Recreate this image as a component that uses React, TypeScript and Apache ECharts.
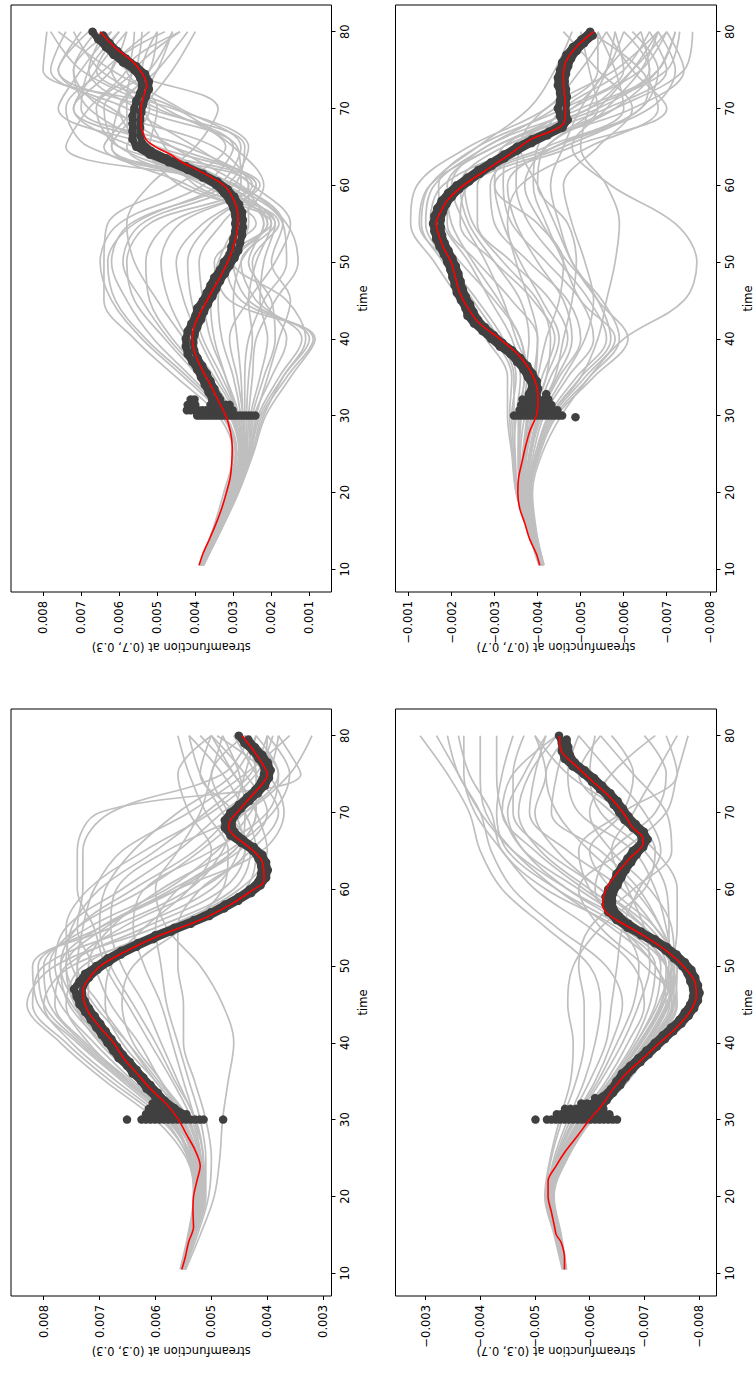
import React, { useEffect, useRef } from "react";
import * as echarts from "echarts";

// All streamfunction tables below are stored in units of 1e-3.
const UNIT = 1e-3;

const TIME_TICKS = [10, 20, 30, 40, 50, 60, 70, 80];

// sampling times of the ensemble members
const ENS_T = [10.5, 15, 20, 25, 30, 35, 40, 45, 50, 55, 60, 65, 70, 75, 80];

// observation times (two interleaved rows of dots)
const OBS_T = [31, 32, 33, 34, 35, 36, 37, 38, 39, 40, 41, 42, 43, 44, 45, 46, 47, 48, 49, 50,
  51, 52, 53, 54, 55, 56, 57, 58, 59, 60, 61, 62, 63, 64, 65, 66, 67, 68, 69, 70,
  71, 72, 73, 74, 75, 76, 77, 78, 79, 80];
const OBS_T_HALF = [30.5, 31.5, 32.5, 33.5, 34.5, 35.5, 36.5, 37.5, 38.5, 39.5, 40.5, 41.5, 42.5, 43.5, 44.5,
  45.5, 46.5, 47.5, 48.5, 49.5, 50.5, 51.5, 52.5, 53.5, 54.5, 55.5, 56.5, 57.5, 58.5, 59.5,
  60.5, 61.5, 62.5, 63.5, 64.5, 65.5, 66.5, 67.5, 68.5, 69.5, 70.5, 71.5, 72.5, 73.5, 74.5,
  75.5, 76.5, 77.5, 78.5, 79.5];

// ---------- point (0.7, 0.3) ----------
const P73_TICKS = [0.001, 0.002, 0.003, 0.004, 0.005, 0.006, 0.007, 0.008];
const P73_ENS = [
  [3.90, 3.55, 3.25, 3.00, 3.40, 4.50, 5.60, 6.40, 6.40, 6.30, 4.50, 3.20, 4.80, 6.50, 7.20],
  [3.88, 3.50, 3.20, 2.95, 3.30, 4.30, 5.40, 6.20, 6.50, 6.00, 3.80, 3.00, 5.00, 7.00, 7.80],
  [3.85, 3.52, 3.15, 2.90, 3.20, 4.10, 5.10, 5.80, 6.20, 5.70, 3.20, 2.60, 4.60, 8.00, 7.90],
  [3.86, 3.48, 3.10, 2.85, 3.10, 3.90, 4.80, 5.60, 5.80, 5.20, 2.80, 2.90, 5.50, 6.80, 6.40],
  [3.84, 3.45, 3.10, 2.80, 3.00, 3.70, 4.60, 5.20, 5.30, 4.70, 2.60, 3.50, 6.40, 7.20, 6.60],
  [3.87, 3.50, 3.15, 2.85, 2.95, 3.50, 4.20, 4.70, 4.90, 4.40, 2.50, 4.20, 7.00, 6.80, 6.00],
  [3.83, 3.46, 3.05, 2.75, 2.90, 3.40, 3.90, 4.30, 4.50, 3.80, 2.30, 5.00, 7.60, 7.00, 6.20],
  [3.85, 3.44, 3.05, 2.75, 2.85, 3.20, 3.60, 3.80, 3.90, 3.30, 2.40, 5.60, 7.20, 6.20, 5.80],
  [3.82, 3.42, 3.00, 2.70, 2.80, 3.00, 3.30, 3.40, 3.20, 2.60, 2.60, 6.00, 6.60, 5.60, 5.40],
  [3.84, 3.40, 3.00, 2.70, 2.75, 2.80, 2.90, 3.00, 2.80, 2.20, 2.90, 6.20, 6.00, 5.20, 5.00],
  [3.80, 3.40, 2.98, 2.65, 2.65, 2.60, 2.50, 2.60, 2.40, 2.00, 3.30, 6.40, 5.60, 5.00, 4.60],
  [3.82, 3.38, 2.95, 2.60, 2.55, 2.30, 2.10, 2.30, 2.20, 1.90, 3.60, 5.80, 5.20, 5.40, 5.00],
  [3.80, 3.36, 2.92, 2.58, 2.45, 2.00, 1.60, 2.20, 2.50, 1.80, 3.80, 5.20, 5.00, 5.80, 4.40],
  [3.78, 3.35, 2.90, 2.55, 2.35, 1.80, 1.20, 2.40, 2.80, 1.90, 4.00, 4.80, 5.40, 6.20, 4.80],
  [3.79, 3.34, 2.88, 2.50, 2.25, 1.60, 0.90, 2.80, 3.20, 2.00, 4.40, 5.40, 6.00, 5.00, 4.20],
  [3.80, 3.33, 2.86, 2.48, 2.15, 1.50, 0.85, 3.10, 3.50, 2.40, 4.20, 6.20, 5.40, 4.60, 4.00],
  [3.81, 3.35, 2.90, 2.52, 2.20, 1.70, 1.10, 1.60, 3.00, 2.10, 3.20, 6.80, 7.40, 6.40, 5.20],
  [3.83, 3.37, 2.93, 2.58, 2.40, 2.10, 1.80, 1.50, 2.00, 1.70, 3.00, 7.40, 6.80, 5.80, 5.60],
  [3.84, 3.40, 2.97, 2.65, 2.60, 2.50, 2.40, 1.90, 1.30, 1.60, 2.80, 4.60, 6.20, 7.60, 6.80],
  [3.86, 3.43, 3.02, 2.72, 2.75, 2.90, 3.10, 2.60, 1.90, 1.50, 2.50, 4.00, 5.80, 7.80, 7.40],
  [3.85, 3.45, 3.05, 2.78, 2.90, 3.20, 3.50, 3.60, 3.40, 2.90, 2.20, 3.00, 4.50, 6.60, 6.00],
  [3.87, 3.47, 3.08, 2.80, 3.00, 3.60, 4.30, 5.00, 5.60, 5.80, 5.20, 4.00, 3.40, 5.80, 6.50],
  [3.86, 3.49, 3.12, 2.82, 3.05, 3.80, 4.70, 5.40, 5.90, 5.40, 3.00, 2.70, 5.20, 7.60, 7.00],
  [3.81, 3.39, 2.96, 2.62, 2.50, 2.20, 1.90, 2.00, 2.60, 2.20, 3.40, 6.00, 6.40, 5.20, 4.60],
  [3.83, 3.41, 2.99, 2.68, 2.70, 2.70, 2.60, 2.20, 1.60, 1.70, 3.00, 5.00, 6.80, 7.20, 6.20],
  [3.85, 3.46, 3.06, 2.76, 2.88, 3.30, 3.80, 4.10, 4.20, 3.60, 2.40, 4.60, 7.20, 6.60, 5.80],
  [3.79, 3.36, 2.91, 2.55, 2.30, 1.70, 1.00, 2.60, 3.00, 2.10, 3.60, 5.60, 5.80, 5.60, 4.40],
  [3.88, 3.51, 3.18, 2.92, 3.25, 4.20, 5.30, 6.10, 6.30, 5.60, 3.40, 2.80, 4.40, 6.20, 7.60],
];
const P73_MEAN_T = [10.5, 12, 14, 16, 18, 20, 22, 24, 26, 28, 30, 32, 34, 36, 38, 40, 42, 44, 46, 48,
  50, 52, 54, 56, 58, 60, 62, 63, 64, 65, 66, 68, 70, 72, 73, 74, 76, 78, 80];
const P73_MEAN = [3.90, 3.80, 3.62, 3.45, 3.30, 3.18, 3.08, 3.04, 3.03, 3.08, 3.20, 3.40, 3.60, 3.82, 4.00,
  4.08, 4.00, 3.80, 3.58, 3.35, 3.15, 3.00, 2.90, 2.88, 2.98, 3.25, 3.95, 4.35, 4.65, 5.05,
  5.30, 5.42, 5.42, 5.33, 5.28, 5.33, 5.62, 6.12, 6.50];
const P73_OBS_HI = [3.50, 3.55, 3.65, 3.75, 3.85, 3.95, 4.08, 4.20, 4.25, 4.25, 4.20, 4.10, 4.00, 3.95, 3.80,
  3.70, 3.60, 3.50, 3.35, 3.25, 3.10, 3.05, 3.00, 2.95, 2.95, 2.95, 3.00, 3.10, 3.25, 3.45,
  3.80, 4.20, 4.70, 5.20, 5.55, 5.65, 5.65, 5.65, 5.65, 5.60, 5.55, 5.45, 5.40, 5.45, 5.60,
  5.90, 6.15, 6.35, 6.55, 6.70];
const P73_OBS_LO = [3.25, 3.33, 3.40, 3.50, 3.60, 3.70, 3.82, 3.94, 4.03, 4.05, 4.02, 3.95, 3.85, 3.77, 3.67,
  3.55, 3.45, 3.35, 3.22, 3.10, 2.97, 2.87, 2.82, 2.77, 2.75, 2.75, 2.77, 2.85, 2.97, 3.15,
  3.42, 3.80, 4.25, 4.75, 5.17, 5.40, 5.45, 5.45, 5.45, 5.42, 5.37, 5.30, 5.22, 5.22, 5.32,
  5.55, 5.82, 6.05, 6.25, 6.42];
// observations gathered at the start of the assimilation window
const P73_BURST_T = [30, 30.7, 31.4, 32.1];
const P73_BURST = [
  [3.95, 3.87, 3.79, 3.71, 3.63, 3.55, 3.47, 3.39, 3.31, 3.23, 3.15, 3.07, 2.99, 2.91, 2.83, 2.75, 2.67, 2.59, 2.51, 2.42],
  [4.22, 4.12, 4.02, 3.92, 3.82, 3.72, 3.62, 3.52, 3.42, 3.32, 3.22, 3.12, 3.02],
  [4.20, 4.10, 4.00, 3.60, 3.50, 3.40, 3.30, 3.20, 3.10],
  [4.12, 4.02, 3.45, 3.35],
];

// ---------- point (0.7, 0.7) ----------
const P77_TICKS = [-0.008, -0.007, -0.006, -0.005, -0.004, -0.003, -0.002, -0.001];
const P77_ENS = [
  [-4.05, -3.80, -3.50, -3.40, -3.30, -3.30, -2.80, -2.20, -1.60, -1.05, -1.20, -2.40, -4.20, -5.00, -5.60],
  [-4.05, -3.78, -3.55, -3.45, -3.40, -3.50, -3.20, -2.60, -1.90, -1.25, -1.50, -3.00, -4.80, -5.60, -6.00],
  [-4.08, -3.82, -3.60, -3.55, -3.55, -3.70, -3.60, -3.00, -2.20, -1.50, -1.80, -3.60, -5.40, -5.20, -5.00],
  [-4.06, -3.84, -3.62, -3.60, -3.70, -3.90, -4.00, -3.40, -2.60, -1.90, -2.10, -4.20, -6.00, -5.80, -5.40],
  [-4.10, -3.86, -3.66, -3.70, -3.85, -4.10, -4.40, -3.90, -3.00, -2.20, -2.40, -4.60, -6.40, -6.80, -6.20],
  [-4.08, -3.88, -3.70, -3.75, -3.95, -4.30, -4.70, -4.30, -3.40, -2.60, -2.60, -4.40, -6.60, -7.20, -6.80],
  [-4.12, -3.90, -3.74, -3.85, -4.05, -4.50, -5.00, -4.70, -3.80, -3.00, -2.90, -3.80, -5.80, -7.40, -7.60],
  [-4.10, -3.92, -3.76, -3.90, -4.15, -4.70, -5.30, -5.00, -4.20, -3.40, -3.20, -3.40, -5.20, -7.00, -7.30],
  [-4.14, -3.94, -3.80, -3.95, -4.25, -4.90, -5.60, -5.20, -4.50, -3.80, -3.50, -3.60, -4.80, -6.40, -7.00],
  [-4.12, -3.95, -3.82, -4.00, -4.35, -5.10, -5.80, -5.00, -4.60, -4.20, -3.90, -4.00, -4.60, -6.00, -6.60],
  [-4.15, -3.96, -3.85, -4.05, -4.45, -5.30, -6.10, -5.40, -4.80, -4.50, -4.30, -4.60, -5.00, -5.60, -6.40],
  [-4.13, -3.97, -3.88, -4.10, -4.55, -5.20, -6.00, -7.40, -7.70, -7.20, -5.70, -4.80, -5.60, -6.40, -6.80],
  [-4.11, -3.93, -3.78, -3.95, -4.30, -5.00, -5.40, -5.60, -5.80, -5.90, -5.60, -5.00, -5.20, -5.60, -5.80],
  [-4.09, -3.89, -3.72, -3.80, -4.00, -4.40, -4.60, -4.80, -4.90, -4.70, -4.00, -4.20, -5.80, -6.80, -7.20],
  [-4.07, -3.85, -3.65, -3.70, -3.80, -4.00, -4.20, -4.50, -4.60, -4.00, -3.00, -3.20, -5.20, -6.20, -7.00],
  [-4.06, -3.83, -3.60, -3.65, -3.75, -3.80, -3.50, -3.20, -2.80, -2.30, -2.00, -2.80, -5.00, -6.60, -6.40],
  [-4.04, -3.79, -3.52, -3.45, -3.50, -3.60, -3.40, -2.90, -2.40, -1.80, -1.70, -2.60, -4.60, -6.00, -5.80],
  [-4.05, -3.81, -3.58, -3.55, -3.60, -3.70, -3.80, -3.60, -3.00, -2.40, -2.20, -3.20, -5.60, -7.00, -6.60],
  [-4.09, -3.87, -3.68, -3.75, -3.90, -4.20, -4.50, -4.10, -3.60, -3.20, -3.00, -4.80, -7.00, -6.20, -5.60],
  [-4.11, -3.91, -3.75, -3.85, -4.10, -4.60, -5.10, -5.30, -5.10, -4.80, -4.60, -5.40, -6.20, -5.40, -4.60],
  [-4.07, -3.84, -3.63, -3.68, -3.78, -3.95, -4.00, -3.80, -3.50, -3.30, -3.60, -5.20, -6.80, -6.40, -5.20],
  [-4.03, -3.77, -3.50, -3.42, -3.35, -3.40, -3.00, -2.40, -1.80, -1.30, -1.50, -2.60, -3.80, -4.40, -4.80],
  [-4.08, -3.86, -3.64, -3.72, -3.88, -4.20, -4.30, -4.00, -3.20, -2.50, -2.30, -3.60, -6.20, -7.40, -7.00],
  [-4.12, -3.93, -3.79, -3.98, -4.30, -5.00, -5.70, -5.40, -4.80, -4.40, -4.00, -3.60, -4.20, -5.80, -6.80],
  [-4.06, -3.82, -3.58, -3.58, -3.62, -3.75, -3.60, -3.10, -2.50, -2.00, -1.90, -3.00, -5.40, -6.80, -7.20],
  [-4.10, -3.89, -3.71, -3.82, -4.02, -4.45, -4.80, -4.60, -4.00, -3.50, -3.30, -4.40, -6.40, -6.60, -6.00],
  [-4.04, -3.78, -3.54, -3.48, -3.45, -3.45, -3.10, -2.50, -1.90, -1.40, -1.60, -2.80, -4.40, -5.40, -5.40],
  [-4.13, -3.95, -3.83, -4.02, -4.40, -5.20, -5.90, -5.50, -4.70, -4.10, -3.70, -4.20, -5.40, -6.20, -6.80],
];
const P77_MEAN_T = [10.5, 12, 14, 16, 18, 20, 22, 24, 26, 28, 30, 32, 34, 36, 38, 40, 42, 44, 46, 48,
  50, 52, 54, 55, 56, 58, 60, 62, 64, 66, 67, 68, 70, 72, 74, 76, 78, 80];
const P77_MEAN = [-4.05, -3.97, -3.81, -3.70, -3.58, -3.54, -3.56, -3.64, -3.72, -3.82, -3.97, -4.01, -3.97,
  -3.81, -3.54, -3.12, -2.65, -2.38, -2.19, -2.09, -1.99, -1.80, -1.68, -1.64, -1.70, -1.90, -2.28,
  -2.81, -3.35, -3.85, -4.30, -4.60, -4.65, -4.62, -4.60, -4.65, -4.90, -5.30];
const P77_OBS_HI = [-3.87, -3.82, -3.82, -3.87, -3.77, -3.67, -3.52, -3.37, -3.12, -2.92, -2.72, -2.52, -2.37,
  -2.32, -2.22, -2.12, -2.07, -2.02, -1.97, -1.90, -1.82, -1.72, -1.64, -1.60, -1.57, -1.60, -1.67,
  -1.77, -1.92, -2.12, -2.37, -2.62, -2.92, -3.22, -3.52, -3.87, -4.27, -4.57, -4.52, -4.47, -4.52,
  -4.52, -4.47, -4.47, -4.52, -4.57, -4.67, -4.82, -5.02, -5.22];
const P77_OBS_LO = [-4.05, -4.00, -3.98, -4.01, -3.98, -3.88, -3.76, -3.60, -3.41, -3.18, -2.98, -2.78, -2.61,
  -2.51, -2.43, -2.33, -2.26, -2.21, -2.16, -2.10, -2.02, -1.93, -1.84, -1.78, -1.75, -1.75, -1.80,
  -1.88, -2.01, -2.18, -2.41, -2.66, -2.93, -3.23, -3.53, -3.86, -4.23, -4.58, -4.70, -4.66, -4.66,
  -4.68, -4.66, -4.63, -4.66, -4.71, -4.78, -4.91, -5.08, -5.28];
const P77_BURST_T = [29.8, 30, 30.7, 31.4, 32.1, 32.8];
const P77_BURST = [
  [-4.88],
  [-3.45, -3.53, -3.61, -3.69, -3.77, -3.85, -3.93, -4.01, -4.09, -4.17, -4.25, -4.33, -4.41, -4.49, -4.57],
  [-3.58, -3.66, -3.74, -3.82, -3.90, -3.98, -4.06, -4.14, -4.22, -4.30, -4.38, -4.46],
  [-3.62, -3.72, -3.82, -4.02, -4.12, -4.22, -4.32],
  [-3.65, -3.75, -4.15, -4.25],
  [-3.80, -4.20],
];

// ---------- point (0.3, 0.3) ----------
const P33_TICKS = [0.003, 0.004, 0.005, 0.006, 0.007, 0.008];
const P33_ENS = [
  [5.50, 5.35, 5.25, 5.35, 5.80, 6.60, 7.40, 8.10, 8.20, 6.80, 5.40, 4.80, 4.60, 4.40, 4.20],
  [5.52, 5.38, 5.28, 5.40, 5.90, 6.80, 7.60, 8.20, 8.00, 6.40, 5.00, 4.50, 4.40, 4.50, 4.80],
  [5.55, 5.40, 5.30, 5.45, 6.00, 6.90, 7.70, 8.30, 7.80, 6.00, 4.60, 4.30, 4.70, 5.00, 4.40],
  [5.48, 5.34, 5.22, 5.30, 5.70, 6.50, 7.30, 7.90, 8.00, 7.20, 5.80, 4.90, 4.30, 4.00, 4.60],
  [5.50, 5.36, 5.24, 5.32, 5.65, 6.40, 7.10, 7.70, 7.90, 7.40, 6.20, 5.20, 4.40, 3.80, 4.20],
  [5.53, 5.37, 5.26, 5.28, 5.55, 6.20, 6.90, 7.50, 7.80, 7.60, 6.60, 5.60, 4.80, 4.00, 3.80],
  [5.51, 5.35, 5.20, 5.25, 5.50, 6.10, 6.70, 7.30, 7.60, 7.50, 7.00, 6.00, 5.10, 4.30, 4.00],
  [5.49, 5.33, 5.18, 5.22, 5.45, 6.00, 6.50, 7.00, 7.40, 7.30, 7.10, 6.60, 5.40, 4.40, 3.60],
  [5.47, 5.31, 5.16, 5.20, 5.40, 5.90, 6.30, 6.80, 7.10, 7.40, 7.30, 7.30, 6.80, 4.80, 4.30],
  [5.50, 5.30, 5.15, 5.18, 5.35, 5.70, 6.10, 6.50, 6.90, 7.10, 7.40, 7.40, 7.00, 3.40, 3.80],
  [5.52, 5.32, 5.14, 5.15, 5.30, 5.60, 5.90, 6.20, 6.60, 6.80, 6.70, 5.80, 4.40, 3.60, 3.20],
  [5.54, 5.34, 5.17, 5.20, 5.30, 5.50, 5.70, 5.90, 6.20, 6.40, 6.20, 5.00, 4.00, 3.80, 4.40],
  [5.50, 5.28, 5.10, 5.10, 5.20, 5.40, 5.60, 5.80, 5.90, 6.00, 5.60, 4.60, 4.20, 4.60, 5.00],
  [5.48, 5.25, 5.05, 5.00, 5.10, 5.30, 5.50, 5.50, 5.60, 5.60, 5.20, 4.40, 4.80, 5.20, 5.40],
  [5.46, 5.20, 4.95, 4.85, 4.80, 4.70, 4.60, 4.80, 5.20, 5.80, 6.00, 5.60, 5.20, 5.00, 4.80],
  [5.56, 5.42, 5.32, 5.40, 5.75, 6.50, 7.20, 7.60, 7.30, 5.80, 4.50, 4.00, 4.20, 4.60, 5.20],
  [5.54, 5.40, 5.30, 5.38, 5.70, 6.30, 7.00, 7.40, 7.40, 6.60, 5.20, 4.30, 3.80, 4.20, 4.60],
  [5.51, 5.36, 5.23, 5.30, 5.60, 6.20, 6.80, 7.20, 7.20, 6.80, 5.90, 4.70, 3.90, 3.60, 4.00],
  [5.49, 5.32, 5.19, 5.24, 5.50, 6.00, 6.60, 6.90, 6.80, 6.20, 5.40, 5.00, 5.40, 5.60, 5.00],
  [5.53, 5.39, 5.27, 5.35, 5.62, 6.30, 6.95, 7.55, 7.70, 7.00, 5.60, 4.10, 3.70, 4.00, 4.90],
  [5.50, 5.33, 5.21, 5.26, 5.52, 5.90, 6.40, 6.60, 6.40, 5.50, 4.80, 4.70, 5.10, 5.40, 5.60],
  [5.55, 5.41, 5.31, 5.42, 5.85, 6.70, 7.50, 8.00, 7.50, 5.50, 4.40, 4.20, 4.40, 4.80, 5.40],
  [5.52, 5.37, 5.27, 5.36, 5.75, 6.55, 7.35, 8.00, 8.10, 7.00, 5.60, 4.60, 4.20, 4.20, 4.40],
  [5.50, 5.33, 5.20, 5.26, 5.55, 6.15, 6.80, 7.40, 7.70, 7.40, 6.40, 5.30, 4.60, 4.10, 4.00],
  [5.54, 5.39, 5.29, 5.38, 5.72, 6.45, 7.25, 7.80, 7.60, 6.20, 4.80, 4.40, 4.60, 5.20, 5.00],
  [5.49, 5.30, 5.17, 5.20, 5.42, 5.95, 6.50, 7.10, 7.50, 7.60, 7.20, 6.20, 5.00, 4.20, 3.90],
  [5.51, 5.34, 5.22, 5.28, 5.58, 6.25, 6.90, 7.45, 7.60, 6.90, 5.70, 4.50, 4.00, 4.40, 5.00],
  [5.47, 5.29, 5.12, 5.14, 5.28, 5.65, 6.00, 6.40, 6.80, 7.00, 6.90, 6.40, 5.60, 4.60, 4.20],
];
const P33_MEAN_T = [10.5, 12, 14, 16, 18, 20, 22, 24, 26, 28, 30, 32, 34, 36, 38, 40, 42, 44, 46, 47,
  48, 50, 52, 54, 56, 58, 60, 61, 62, 64, 66, 67, 68, 69, 70, 72, 74, 75, 76, 78, 80];
const P33_MEAN = [5.53, 5.47, 5.41, 5.32, 5.33, 5.32, 5.26, 5.20, 5.29, 5.44, 5.59, 5.80, 6.09, 6.33, 6.57,
  6.75, 6.99, 7.20, 7.29, 7.29, 7.23, 6.99, 6.51, 5.92, 5.20, 4.66, 4.24, 4.06, 4.06, 4.12,
  4.42, 4.60, 4.69, 4.66, 4.54, 4.30, 4.06, 4.00, 4.06, 4.24, 4.45];
const P33_OBS_HI = [5.66, 5.91, 6.01, 6.16, 6.26, 6.41, 6.51, 6.66, 6.76, 6.86, 6.96, 7.06, 7.16, 7.26, 7.36,
  7.41, 7.46, 7.36, 7.26, 7.06, 6.86, 6.61, 6.31, 6.01, 5.66, 5.31, 5.01, 4.76, 4.51, 4.31,
  4.16, 4.11, 4.11, 4.16, 4.26, 4.46, 4.66, 4.76, 4.76, 4.66, 4.51, 4.36, 4.21, 4.11, 4.06,
  4.06, 4.16, 4.26, 4.41, 4.51];
const P33_OBS_LO = [5.45, 5.66, 5.84, 5.96, 6.09, 6.22, 6.34, 6.46, 6.59, 6.69, 6.79, 6.89, 6.99, 7.09, 7.19,
  7.27, 7.32, 7.29, 7.19, 7.04, 6.84, 6.62, 6.34, 6.04, 5.72, 5.37, 5.04, 4.77, 4.52, 4.29,
  4.12, 4.02, 3.99, 4.02, 4.09, 4.24, 4.44, 4.59, 4.64, 4.59, 4.47, 4.32, 4.17, 4.04, 3.97,
  3.94, 3.99, 4.09, 4.22, 4.34];
const P33_BURST_T = [30, 30.7, 31.4, 32.1];
const P33_BURST = [
  [6.51, 6.25, 6.17, 6.09, 6.01, 5.93, 5.85, 5.77, 5.69, 5.61, 5.53, 5.45, 5.37, 5.29, 5.21, 5.14, 4.79],
  [6.17, 6.09, 6.01, 5.93, 5.85, 5.77, 5.69, 5.61, 5.53, 5.45],
  [6.12, 6.04, 5.96, 5.88],
  [6.05, 5.97],
];

// ---------- point (0.3, 0.7) ----------
const P37_TICKS = [-0.008, -0.007, -0.006, -0.005, -0.004, -0.003];
const P37_ENS = [
  [-5.52, -5.38, -5.22, -5.35, -5.60, -5.90, -6.10, -6.20, -6.00, -5.20, -4.40, -4.00, -3.80, -3.40, -2.90],
  [-5.54, -5.40, -5.25, -5.40, -5.70, -6.10, -6.40, -6.60, -6.30, -5.40, -4.60, -4.20, -4.00, -3.60, -3.40],
  [-5.55, -5.42, -5.28, -5.45, -5.80, -6.30, -6.70, -7.00, -6.80, -6.00, -5.00, -4.40, -3.90, -3.70, -3.70],
  [-5.56, -5.44, -5.30, -5.50, -5.90, -6.50, -7.00, -7.40, -7.20, -6.40, -5.40, -4.60, -4.10, -4.00, -4.00],
  [-5.57, -5.46, -5.32, -5.55, -6.00, -6.60, -7.10, -7.50, -7.40, -6.80, -5.80, -4.80, -4.40, -4.30, -4.30],
  [-5.58, -5.48, -5.35, -5.60, -6.05, -6.70, -7.20, -7.60, -7.50, -7.00, -6.20, -5.20, -4.60, -4.60, -4.80],
  [-5.56, -5.47, -5.33, -5.58, -6.02, -6.65, -7.15, -7.55, -7.60, -7.20, -6.60, -5.60, -4.90, -5.00, -5.20],
  [-5.55, -5.45, -5.30, -5.52, -5.95, -6.55, -7.05, -7.45, -7.55, -7.30, -6.90, -6.20, -5.30, -5.40, -5.60],
  [-5.54, -5.43, -5.28, -5.48, -5.90, -6.45, -6.95, -7.35, -7.50, -7.40, -7.20, -6.80, -5.80, -5.60, -5.80],
  [-5.53, -5.41, -5.26, -5.45, -5.85, -6.40, -6.85, -7.25, -7.45, -7.45, -7.40, -7.00, -6.20, -6.00, -6.10],
  [-5.55, -5.44, -5.29, -5.50, -5.92, -6.50, -7.00, -7.40, -7.60, -7.20, -6.40, -6.00, -6.60, -6.80, -6.40],
  [-5.57, -5.45, -5.31, -5.53, -5.98, -6.60, -7.10, -7.50, -7.20, -6.60, -6.10, -6.40, -7.20, -7.40, -7.00],
  [-5.56, -5.46, -5.34, -5.57, -6.03, -6.68, -7.18, -7.58, -7.00, -6.20, -5.80, -6.60, -7.40, -7.60, -7.80],
  [-5.53, -5.40, -5.24, -5.42, -5.75, -6.20, -6.60, -6.90, -7.10, -7.00, -6.70, -6.40, -6.80, -7.20, -7.60],
  [-5.52, -5.39, -5.23, -5.38, -5.65, -6.00, -6.30, -6.40, -6.50, -6.60, -6.90, -7.30, -7.00, -6.40, -5.80],
  [-5.51, -5.37, -5.20, -5.30, -5.50, -5.75, -5.90, -5.90, -5.80, -6.00, -6.80, -7.50, -7.40, -6.80, -6.20],
  [-5.50, -5.35, -5.18, -5.28, -5.45, -5.65, -5.70, -5.60, -5.70, -6.20, -7.00, -7.20, -6.60, -5.60, -5.00],
  [-5.54, -5.42, -5.27, -5.46, -5.88, -6.42, -6.90, -7.30, -7.40, -6.90, -5.90, -5.00, -4.40, -4.60, -5.40],
  [-5.55, -5.43, -5.29, -5.49, -5.93, -6.52, -7.02, -7.42, -7.50, -7.10, -6.20, -5.40, -5.00, -5.20, -5.00],
  [-5.56, -5.44, -5.30, -5.51, -5.96, -6.56, -7.06, -7.46, -7.40, -6.70, -5.60, -4.80, -4.50, -4.80, -5.20],
  [-5.53, -5.42, -5.27, -5.47, -5.90, -6.45, -6.92, -7.30, -7.50, -7.60, -7.60, -7.20, -6.40, -5.80, -6.20],
  [-5.52, -5.41, -5.25, -5.44, -5.82, -6.35, -6.80, -7.10, -7.20, -6.50, -5.20, -4.40, -4.20, -3.80, -3.60],
  [-5.55, -5.44, -5.29, -5.50, -5.93, -6.52, -7.04, -7.44, -7.50, -7.00, -6.00, -5.10, -4.70, -4.90, -5.40],
  [-5.56, -5.45, -5.31, -5.54, -5.99, -6.62, -7.12, -7.52, -7.55, -7.30, -6.80, -6.00, -5.40, -5.20, -5.60],
  [-5.53, -5.41, -5.26, -5.44, -5.84, -6.38, -6.85, -7.20, -7.30, -6.80, -5.60, -4.60, -4.00, -3.60, -3.20],
  [-5.54, -5.43, -5.28, -5.47, -5.89, -6.44, -6.93, -7.33, -7.55, -7.50, -7.10, -6.40, -6.00, -6.40, -7.20],
  [-5.52, -5.39, -5.23, -5.40, -5.72, -6.15, -6.50, -6.80, -6.90, -6.60, -6.00, -5.80, -6.60, -7.60, -7.40],
  [-5.57, -5.46, -5.33, -5.56, -6.01, -6.64, -7.14, -7.54, -7.40, -6.60, -5.40, -4.50, -4.30, -4.40, -4.60],
];
const P37_MEAN_T = [10.5, 12, 14, 15, 16, 18, 20, 22, 24, 26, 28, 30, 32, 34, 36, 38, 40, 42, 44, 46,
  48, 50, 52, 54, 56, 57, 58, 60, 62, 64, 66, 67, 68, 70, 72, 74, 76, 78, 80];
const P37_MEAN = [-5.54, -5.54, -5.48, -5.39, -5.36, -5.30, -5.24, -5.24, -5.39, -5.57, -5.79, -6.00, -6.24,
  -6.43, -6.67, -6.98, -7.28, -7.59, -7.83, -7.95, -7.92, -7.71, -7.40, -6.98, -6.49, -6.30, -6.24,
  -6.30, -6.49, -6.73, -6.98, -6.95, -6.79, -6.61, -6.37, -6.06, -5.76, -5.48, -5.45];
const P37_OBS_HI = [-5.94, -6.14, -6.24, -6.39, -6.49, -6.59, -6.74, -6.89, -7.04, -7.19, -7.34, -7.49, -7.64,
  -7.74, -7.84, -7.89, -7.89, -7.84, -7.79, -7.69, -7.54, -7.39, -7.19, -6.94, -6.69, -6.49, -6.34,
  -6.29, -6.29, -6.34, -6.44, -6.49, -6.59, -6.69, -6.79, -6.94, -6.94, -6.79, -6.64, -6.54, -6.44,
  -6.34, -6.19, -6.04, -5.89, -5.69, -5.54, -5.49, -5.49, -5.44];
const P37_OBS_LO = [-5.95, -6.16, -6.31, -6.43, -6.56, -6.66, -6.78, -6.93, -7.08, -7.23, -7.38, -7.53, -7.68,
  -7.81, -7.91, -7.98, -8.01, -7.98, -7.93, -7.86, -7.74, -7.59, -7.41, -7.19, -6.94, -6.71, -6.54,
  -6.43, -6.41, -6.43, -6.51, -6.58, -6.66, -6.76, -6.86, -6.98, -7.06, -6.99, -6.84, -6.71, -6.61,
  -6.51, -6.38, -6.23, -6.08, -5.91, -5.73, -5.64, -5.61, -5.58];
const P37_BURST_T = [30, 30.7, 31.4, 32.1, 32.8];
const P37_BURST = [
  [-5.01, -5.22, -5.30, -5.38, -5.46, -5.54, -5.62, -5.70, -5.78, -5.86, -5.94, -6.02, -6.10, -6.18, -6.26, -6.34, -6.42, -6.50],
  [-5.40, -5.48, -5.56, -5.64, -5.72, -5.80, -5.88, -5.96, -6.04, -6.12, -6.20, -6.28, -6.36],
  [-5.55, -5.65, -5.75, -5.85, -5.95, -6.05, -6.15, -6.25],
  [-5.85, -5.95, -6.05, -6.15, -6.25],
  [-6.10, -6.20, -6.30],
];

const FONT = "DejaVu Sans";
const TEXT = { fontFamily: FONT, fontSize: 11.5, color: "#000" };
const GRAY = "#bfbfbf";
const DOT = "#404040";

type Panel = {
  name: string;
  ens: number[][];
  meanT: number[];
  mean: number[];
  hi: number[];
  lo: number[];
  burstT: number[];
  burst: number[][];
  ticks: number[];
  xMin: number;
  xMax: number;
  left: number;
  top: number;
  width: number;
};

const PANELS: Panel[] = [
  { name: "streamfunction at (0.7, 0.3)", ens: P73_ENS, meanT: P73_MEAN_T, mean: P73_MEAN, hi: P73_OBS_HI,
    lo: P73_OBS_LO, burstT: P73_BURST_T, burst: P73_BURST, ticks: P73_TICKS,
    xMin: 0.000421, xMax: 0.008842, left: 11, top: 5, width: 320.5 },
  { name: "streamfunction at (0.7, 0.7)", ens: P77_ENS, meanT: P77_MEAN_T, mean: P77_MEAN, hi: P77_OBS_HI,
    lo: P77_OBS_LO, burstT: P77_BURST_T, burst: P77_BURST, ticks: P77_TICKS,
    xMin: -0.008156, xMax: -0.000698, left: 395.5, top: 5, width: 321 },
  { name: "streamfunction at (0.3, 0.3)", ens: P33_ENS, meanT: P33_MEAN_T, mean: P33_MEAN, hi: P33_OBS_HI,
    lo: P33_OBS_LO, burstT: P33_BURST_T, burst: P33_BURST, ticks: P33_TICKS,
    xMin: 0.002851, xMax: 0.008586, left: 11, top: 709, width: 320.5 },
  { name: "streamfunction at (0.3, 0.7)", ens: P37_ENS, meanT: P37_MEAN_T, mean: P37_MEAN, hi: P37_OBS_HI,
    lo: P37_OBS_LO, burstT: P37_BURST_T, burst: P37_BURST, ticks: P37_TICKS,
    xMin: -0.008319, xMax: -0.002451, left: 395.5, top: 709, width: 321 },
];

const PLOT_H = 587;
const T_MIN = 7.025;
const T_MAX = 83.475;

function fmtValue(v: number): string {
  const s = Math.abs(v).toFixed(3);
  return v < 0 ? "\u2212" + s : s;
}

// [value, time] pairs: value runs along the horizontal axis, time along the vertical one
function pairs(times: number[], vals: number[]): number[][] {
  return times.map((t, i) => [vals[i] * UNIT, t]);
}

function buildOption() {
  const grid = PANELS.map((p) => ({
    left: p.left,
    top: p.top,
    width: p.width,
    height: PLOT_H,
    show: true,
    borderColor: "#000",
    borderWidth: 1,
    backgroundColor: "transparent",
    containLabel: false,
    outerBoundsMode: "none",
  }));

  const xAxis = PANELS.map((p, i) => ({
    type: "value",
    gridIndex: i,
    min: p.xMin,
    max: p.xMax,
    inverse: true,
    position: "bottom",
    axisLine: { show: false },
    splitLine: { show: false },
    axisTick: { show: true, length: 4, lineStyle: { color: "#000", width: 1 }, customValues: p.ticks },
    axisLabel: { ...TEXT, customValues: p.ticks, rotate: 90, margin: 9, formatter: fmtValue },
    name: p.name,
    nameLocation: "middle",
    nameRotate: 180,
    nameGap: 49,
    nameMoveOverlap: false,
    nameTextStyle: { ...TEXT },
  }));

  const yAxis = PANELS.map((_, i) => ({
    type: "value",
    gridIndex: i,
    min: T_MIN,
    max: T_MAX,
    position: "right",
    axisLine: { show: false },
    splitLine: { show: false },
    axisTick: { show: true, length: 4, lineStyle: { color: "#000", width: 1 }, customValues: TIME_TICKS },
    axisLabel: { ...TEXT, customValues: TIME_TICKS, rotate: 90, margin: 7, formatter: (v: number) => String(v) },
    name: "time",
    nameLocation: "middle",
    nameRotate: 90,
    nameGap: 25,
    nameMoveOverlap: false,
    nameTextStyle: { ...TEXT },
  }));

  const series: any[] = [];
  // ensemble members
  PANELS.forEach((p, i) => {
    p.ens.forEach((member) => {
      series.push({
        type: "line",
        xAxisIndex: i,
        yAxisIndex: i,
        data: pairs(ENS_T, member),
        symbol: "none",
        showSymbol: false,
        smooth: 0.35,
        silent: true,
        z: 1,
        lineStyle: { color: GRAY, width: 1.7 },
      });
    });
  });
  // observations: the dense track of dots merges into a solid band
  PANELS.forEach((p, i) => {
    [pairs(OBS_T_HALF, p.lo), pairs(OBS_T, p.hi)].forEach((track) => {
      series.push({
        type: "line",
        xAxisIndex: i,
        yAxisIndex: i,
        data: track,
        symbol: "none",
        showSymbol: false,
        silent: true,
        z: 2,
        lineStyle: { color: DOT, width: 7, cap: "round", join: "round" },
      });
    });
    const dots: number[][] = [];
    p.burstT.forEach((t, k) => p.burst[k].forEach((v) => dots.push([v * UNIT, t])));
    dots.push(...pairs(OBS_T_HALF, p.lo), ...pairs(OBS_T, p.hi));
    series.push({
      type: "scatter",
      xAxisIndex: i,
      yAxisIndex: i,
      data: dots,
      symbol: "circle",
      symbolSize: 8.5,
      silent: true,
      z: 2,
      itemStyle: { color: DOT, opacity: 1 },
    });
  });
  // ensemble mean
  PANELS.forEach((p, i) => {
    series.push({
      type: "line",
      xAxisIndex: i,
      yAxisIndex: i,
      data: pairs(p.meanT, p.mean),
      symbol: "none",
      showSymbol: false,
      smooth: 0.3,
      silent: true,
      z: 3,
      lineStyle: { color: "#ff0000", width: 1.6 },
    });
  });

  return {
    animation: false,
    backgroundColor: "#ffffff",
    grid,
    xAxis,
    yAxis,
    series,
  };
}

export default function App() {
  const ref = useRef<HTMLDivElement>(null);
  useEffect(() => {
    if (!ref.current) return;
    const chart = echarts.init(ref.current, null, { renderer: "svg" });
    chart.setOption(buildOption() as any);
    return () => chart.dispose();
  }, []);
  return (
    <div
      ref={ref}
      style={{ position: "absolute", left: 0, top: 0, width: 753, height: 1373, background: "#fff" }}
    />
  );
}
